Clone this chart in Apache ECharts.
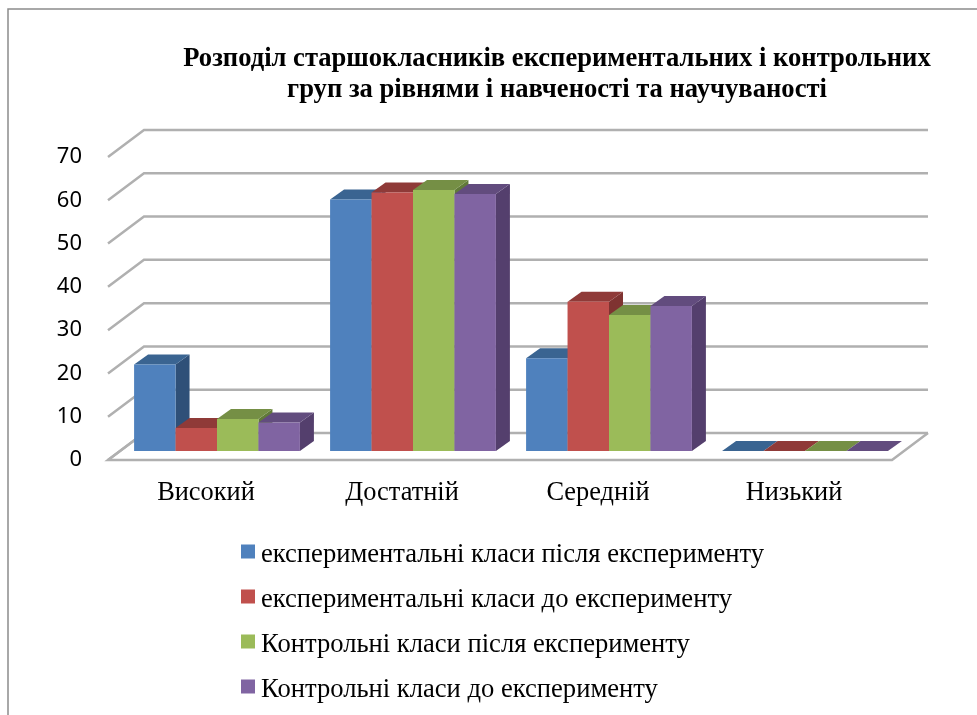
<!DOCTYPE html>
<html>
<head>
<meta charset="utf-8">
<style>
  html, body { margin: 0; padding: 0; background: #fff; }
  #chart { width: 977px; height: 715px; }
</style>
<script src="https://cdn.jsdelivr.net/npm/echarts@6/dist/echarts.min.js"></script>
</head>
<body>
<div id="chart"></div>
<script>
// дані діаграми
const categories = ['Високий', 'Достатній', 'Середній', 'Низький']
const yTicks = [0, 10, 20, 30, 40, 50, 60, 70]
const seriesNames = [
  'експериментальні класи після експерименту',
  'експериментальні класи до експерименту',
  'Контрольні класи після експерименту',
  'Контрольні класи до експерименту'
]
const expAfter = [20, 58.1, 21.4, 0]
const expBefore = [5.3, 59.7, 34.5, 0]
const ctrlAfter = [7.4, 60.3, 31.4, 0]
const ctrlBefore = [6.6, 59.4, 33.5, 0]

const seriesValues = [expAfter, expBefore, ctrlAfter, ctrlBefore]
// кольори граней: передня, верхня, бічна
const faceColors = [
  ['#4f81bd', '#3a6491', '#2f5078'],
  ['#c0504d', '#8f3a38', '#7f3331'],
  ['#9bbb59', '#758f45', '#617a39'],
  ['#8064a2', '#624c7e', '#543f6d']
]

const wallDx = 36
const wallDy = -27
const barShiftX = 11
const barShiftY = -9
const barDx = 14
const barDy = -10
const barRatio = 0.2115

const chart = echarts.init(document.getElementById('chart'))

// сітка: задня стінка і ліва бічна
function renderWall(params, api) {
  const tick = api.value(0)
  const cs = params.coordSys
  const y = api.coord([0, tick])[1]
  const x0 = cs.x
  const x1 = cs.x + cs.width
  const lineStyle = { stroke: '#b0b0b0', lineWidth: 2.5, fill: null }
  const children = [{
    type: 'polyline',
    shape: { points: [[x0, y], [x0 + wallDx, y + wallDy], [x1 + wallDx, y + wallDy]] },
    style: lineStyle
  }]
  if (tick === 0) {
    children.push({
      type: 'polyline',
      shape: { points: [[x0 + wallDx, y + wallDy], [x0, y], [x1, y], [x1 + wallDx, y + wallDy]] },
      style: lineStyle
    })
  }
  return { type: 'group', children }
}

// об'ємний стовпчик з трьох граней
function makeBarRender(index) {
  const colors = faceColors[index]
  return function (params, api) {
    const cat = api.value(0)
    const top = api.coord([cat, api.value(1)])
    const base = api.coord([cat, 0])
    const w = api.size([1, 0])[0] * barRatio
    const x0 = top[0] + (index - 2) * w + barShiftX
    const x1 = x0 + w
    const yT = top[1] + barShiftY
    const yB = base[1] + barShiftY
    return {
      type: 'group',
      children: [
        {
          type: 'polygon',
          shape: { points: [[x1, yT], [x1 + barDx, yT + barDy], [x1 + barDx, yB + barDy], [x1, yB]] },
          style: { fill: colors[2] }
        },
        {
          type: 'polygon',
          shape: { points: [[x0, yT], [x0 + barDx, yT + barDy], [x1 + barDx, yT + barDy], [x1, yT]] },
          style: { fill: colors[1] }
        },
        {
          type: 'rect',
          shape: { x: x0, y: yT, width: w, height: yB - yT },
          style: { fill: colors[0] }
        }
      ]
    }
  }
}

const barSeries = seriesNames.map((name, i) => ({
  name: name,
  type: 'custom',
  coordinateSystem: 'cartesian2d',
  renderItem: makeBarRender(i),
  itemStyle: { color: faceColors[i][0] },
  encode: { x: 0, y: 1 },
  data: seriesValues[i].map((v, c) => [c, v])
}))

const option = {
  animation: false,
  title: {
    text: 'Розподіл старшокласників експериментальних і контрольних\nгруп за рівнями і навченості та научуваності',
    left: 552,
    top: 39,
    textAlign: 'center',
    textStyle: {
      fontFamily: 'Liberation Serif',
      fontWeight: 'bold',
      fontSize: 26.6,
      lineHeight: 31,
      color: '#000'
    }
  },
  legend: {
    orient: 'vertical',
    left: 236,
    top: 529,
    itemWidth: 14,
    itemHeight: 14,
    itemGap: 10,
    icon: 'rect',
    data: seriesNames,
    formatter: name => '{t|' + name + '}',
    textStyle: {
      rich: {
        t: {
          fontFamily: 'Liberation Serif',
          fontSize: 26.6,
          lineHeight: 26,
          color: '#000',
          padding: [8, 0, 0, 1]
        }
      }
    }
  },
  grid: { left: 108, top: 157, width: 784, height: 303 },
  xAxis: {
    type: 'category',
    data: categories,
    axisLine: { show: false },
    axisTick: { show: false },
    axisLabel: {
      margin: 20,
      fontFamily: 'Liberation Serif',
      fontSize: 26.4,
      color: '#000'
    }
  },
  yAxis: {
    type: 'value',
    min: 0,
    max: 70,
    interval: 10,
    axisLine: { show: false },
    axisTick: { show: false },
    splitLine: { show: false },
    axisLabel: {
      margin: 26,
      fontFamily: 'Noto Sans',
      fontSize: 22,
      color: '#000'
    }
  },
  graphic: [{
    type: 'polyline',
    silent: true,
    shape: { points: [[8, 715], [8, 9], [977, 9]] },
    style: { stroke: '#8c8c8c', lineWidth: 1.5, fill: null }
  }],
  series: [{
    type: 'custom',
    name: 'сітка',
    coordinateSystem: 'cartesian2d',
    renderItem: renderWall,
    silent: true,
    encode: { y: 0 },
    data: yTicks.map(t => [t])
  }].concat(barSeries)
}

chart.setOption(option)
</script>
</body>
</html>
